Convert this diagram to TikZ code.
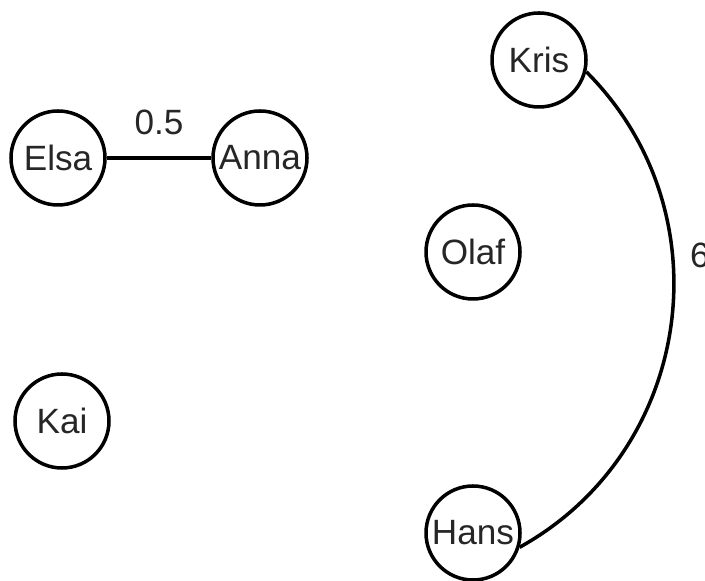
\documentclass[tikz,border=0pt]{standalone}
\usepackage{fontspec}
\setmainfont{Liberation Sans}

\begin{document}
\begin{tikzpicture}
  [person/.style={circle,draw,line width=1pt,minimum size=0.94cm,inner sep=0pt,
     font=\fontsize{10}{12}\selectfont,text=black!85},
   tie/.style={line width=1pt},
   weight/.style={font=\fontsize{10}{12}\selectfont,text=black!85}]
  \useasboundingbox (0,0) rectangle (7.05,5.81);

  \node[person] (elsa) at (0.58,4.23) {Elsa};
  \node[person] (anna) at (2.60,4.23) {Anna};
  \node[person] (kris) at (5.39,5.21) {Kris};
  \node[person] (olaf) at (4.73,3.29) {Olaf};
  \node[person] (kai)  at (0.62,1.60) {Kai};
  \node[person] (hans) at (4.73,0.48) {Hans};

  \draw[tie] (elsa) -- node[weight,above=0.1cm] {0.5} (anna);
  \draw[tie] (kris.-14) to[out=-45,in=29,looseness=1.06]
    node[weight,pos=0.37,right=0.04cm] {6} (hans.-17);

\end{tikzpicture}
\end{document}
